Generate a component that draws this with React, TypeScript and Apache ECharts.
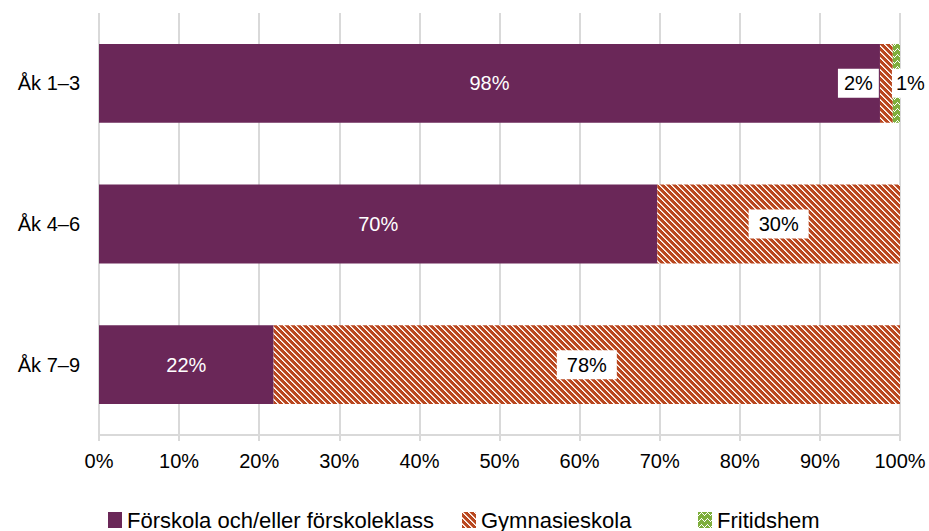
import React, { useEffect, useRef } from "react";
import * as echarts from "echarts";

const categories = ["Åk 1–3", "Åk 4–6", "Åk 7–9"];
const forskola = [97.5, 69.7, 21.8];
const gymnasie = [1.6, 30.3, 78.2];
const fritids = [0.9, 0, 0];
const xTicks = [0, 10, 20, 30, 40, 50, 60, 70, 80, 90, 100];
const legendNames = ["Förskola och/eller förskoleklass", "Gymnasieskola", "Fritidshem"];

function makeStripe(bg: string, fg: string, mid: string) {
  const n = 6;
  const c = document.createElement("canvas");
  c.width = n;
  c.height = n;
  const ctx = c.getContext("2d")!;
  ctx.fillStyle = bg;
  ctx.fillRect(0, 0, n, n);
  for (let i = 0; i < n; i++) {
    ctx.fillStyle = fg;
    ctx.fillRect(i, i, 1, 1);
    ctx.fillStyle = mid;
    ctx.fillRect((i + 1) % n, i, 1, 1);
  }
  return c;
}

function makeZig(bg: string, fg: string) {
  const c = document.createElement("canvas");
  c.width = 6;
  c.height = 6;
  const ctx = c.getContext("2d")!;
  ctx.fillStyle = bg;
  ctx.fillRect(0, 0, 6, 6);
  ctx.fillStyle = fg;
  const pts = [
    [0, 3], [1, 2], [2, 1], [3, 0], [4, 1], [5, 2],
  ];
  pts.forEach(([x, y]) => ctx.fillRect(x, y, 1, 1));
  return c;
}

export default function App() {
  const ref = useRef<HTMLDivElement>(null);
  useEffect(() => {
    if (!ref.current) return;
    const chart = echarts.init(ref.current, null, { renderer: "svg" });
    const orange = makeStripe("#B9471F", "#ffffff", "#F0C9B8");
    const green = makeZig("#7EAE3C", "#ffffff");
    const font = "'Liberation Sans', Arial, sans-serif";
    const pct = (v: number) => Math.round(v) + "%";
    const boxLabel = {
      show: true,
      position: "inside",
      color: "#000",
      fontSize: 20,
      fontFamily: font,
      backgroundColor: "#fff",
      padding: [5, 10, 4, 10],
      formatter: (p: any) => pct(p.value),
    };
    const legendLefts = [108, 462, 698];
    chart.setOption({
      animation: false,
      textStyle: { fontFamily: font },
      grid: { left: 99, right: 29, top: 13, bottom: 96 },
      legend: legendNames.map((n, i) => ({
        top: 509,
        left: legendLefts[i],
        padding: 0,
        itemWidth: 14,
        itemHeight: 16,
        itemGap: 8,
        icon: "rect",
        textStyle: { fontSize: 22, color: "#000", fontFamily: font },
        data: [n],
      })),
      xAxis: {
        type: "value",
        min: 0,
        max: 100,
        interval: 10,
        axisLine: { show: true, lineStyle: { color: "#d9d9d9", width: 2 } },
        axisTick: { show: true, length: 6, lineStyle: { color: "#d9d9d9", width: 2 } },
        splitLine: { show: true, lineStyle: { color: "#d9d9d9", width: 2 } },
        axisLabel: {
          formatter: (v: number) => (xTicks.includes(v) ? v + "%" : ""),
          fontSize: 20,
          color: "#000",
          margin: 16,
          fontFamily: font,
        },
      },
      yAxis: {
        type: "category",
        data: categories,
        inverse: true,
        axisLine: { show: false },
        axisTick: { show: false },
        axisLabel: { fontSize: 20, color: "#000", margin: 19, fontFamily: font },
      },
      series: [
        {
          name: legendNames[0],
          type: "bar",
          stack: "a",
          barCategoryGap: "44%",
          itemStyle: { color: "#6A2758" },
          label: {
            show: true,
            position: "inside",
            color: "#fff",
            fontSize: 20,
            fontFamily: font,
            formatter: (p: any) => pct(p.value),
          },
          data: forskola,
        },
        {
          name: legendNames[1],
          type: "bar",
          stack: "a",
          itemStyle: { color: { image: orange, repeat: "repeat" } },
          label: boxLabel,
          data: gymnasie.map((v, i) =>
            i === 0 ? { value: v, label: { offset: [-28, 0], padding: [5, 6, 4, 6] } } : v
          ),
        },
        {
          name: legendNames[2],
          type: "bar",
          stack: "a",
          itemStyle: { color: { image: green, repeat: "repeat" } },
          label: { ...boxLabel, padding: [5, 4, 4, 4] },
          data: fritids.map((v, i) =>
            i === 0
              ? { value: v, label: { offset: [14, 0] } }
              : { value: v, label: { show: false } }
          ),
        },
      ],
    });
    return () => chart.dispose();
  }, []);
  return <div ref={ref} style={{ width: 929, height: 531, position: "absolute", left: 0, top: 0 }} />;
}
